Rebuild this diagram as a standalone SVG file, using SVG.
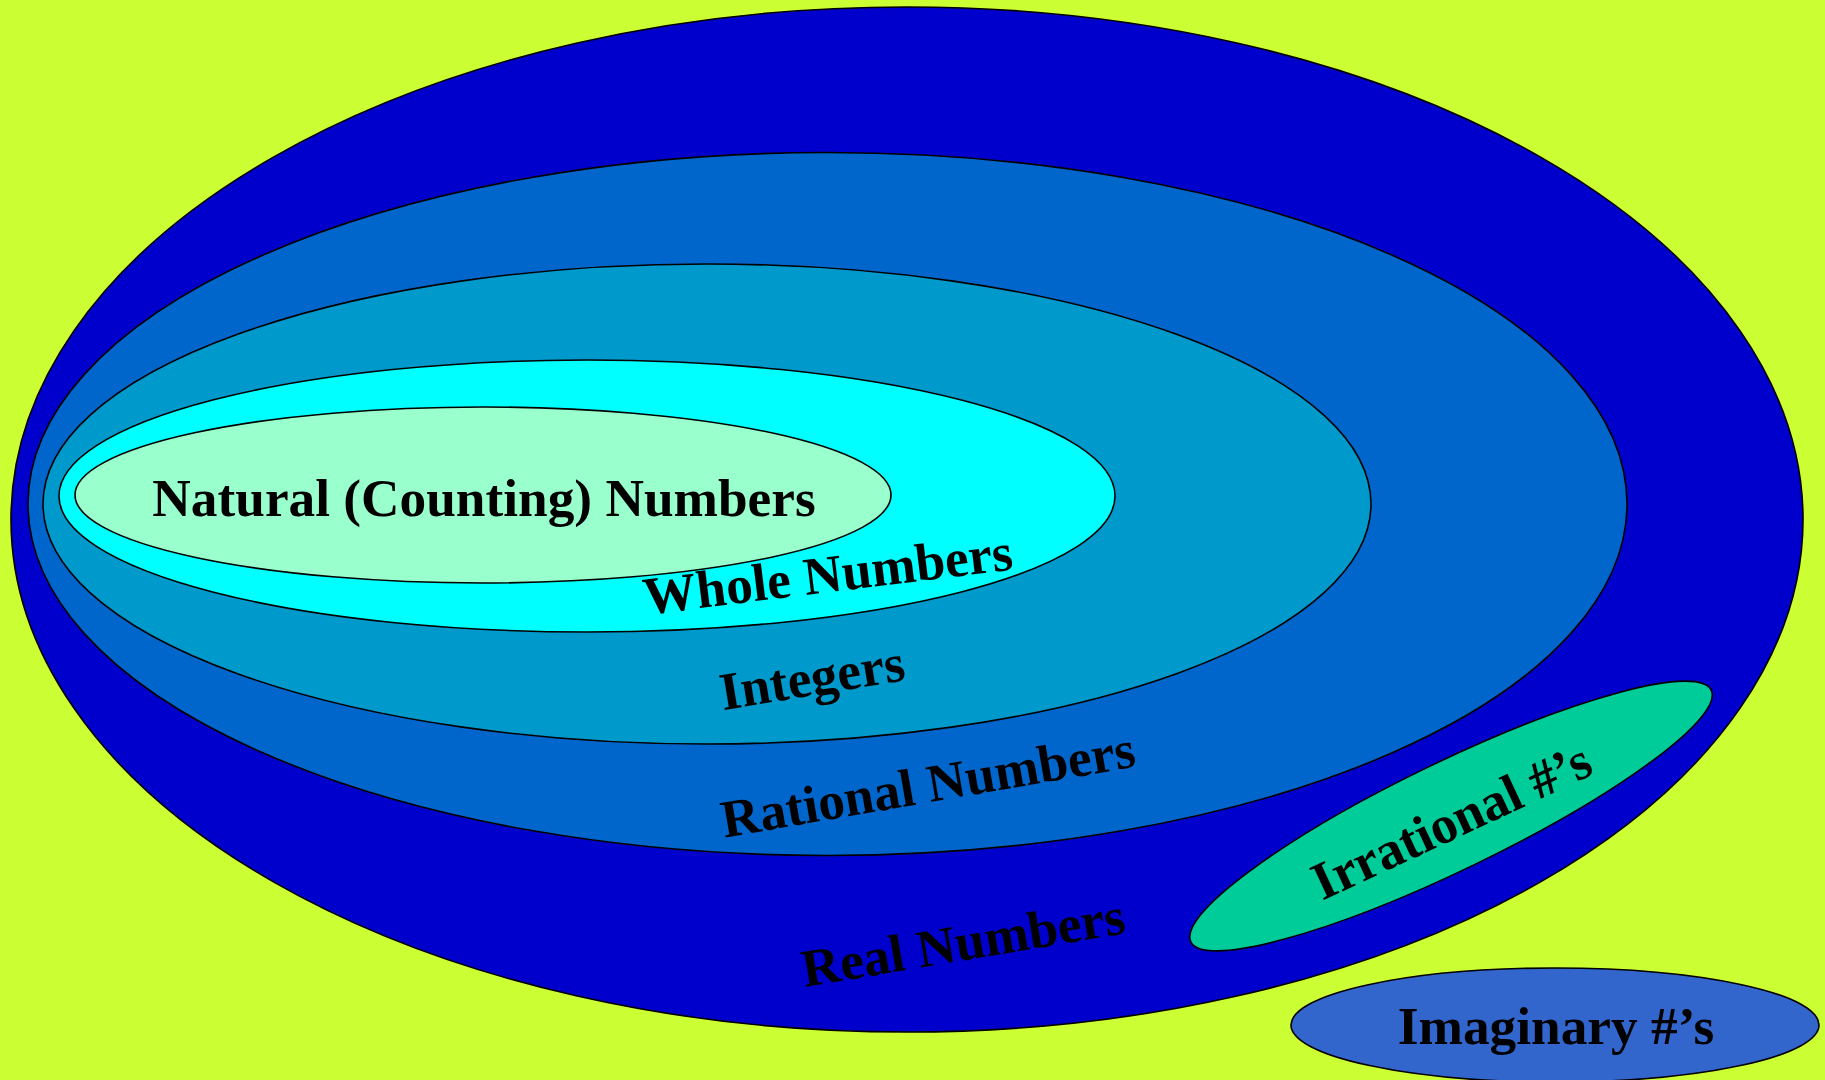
<svg xmlns="http://www.w3.org/2000/svg" width="1825" height="1080" viewBox="0 0 1825 1080">
<style>
.s{stroke:#000;stroke-width:1.6}
.t{font-family:"Liberation Serif","Times New Roman",serif;font-weight:bold;font-size:53.3px;fill:#000;text-anchor:middle}
</style>
<rect width="1825" height="1080" fill="#CCFF33"/>
<g id="real">
<ellipse class="s" cx="907" cy="519.5" rx="896" ry="512.5" fill="#0000CC"/>
<text class="t" transform="translate(966,960) rotate(-9.5)">Real Numbers</text>
</g>
<g id="rational">
<ellipse class="s" cx="827.5" cy="504" rx="799.5" ry="351.5" fill="#0066CC"/>
<text class="t" transform="translate(931,802) rotate(-9.8)">Rational Numbers</text>
</g>
<g id="integers">
<ellipse class="s" cx="707" cy="504" rx="664" ry="240" fill="#0099CC"/>
<text class="t" transform="translate(815,695) rotate(-9.4)">Integers</text>
</g>
<g id="whole">
<ellipse class="s" cx="587" cy="496" rx="528" ry="136" fill="#00FFFF"/>
<text class="t" transform="translate(830,592) rotate(-7)">Whole Numbers</text>
</g>
<g id="natural">
<ellipse class="s" cx="483" cy="495" rx="408" ry="88" fill="#99FFCC"/>
<text class="t" x="484" y="516">Natural (Counting) Numbers</text>
</g>
<g id="irrational">
<ellipse class="s" cx="1451" cy="816" rx="289" ry="54" fill="#00CC99" transform="rotate(-25.8 1451 816)"/>
<text class="t" transform="translate(1459,837) rotate(-25)">Irrational #’s</text>
</g>
<g id="imaginary">
<ellipse class="s" cx="1555" cy="1025" rx="264" ry="57" fill="#3366CC"/>
<text class="t" x="1556" y="1044">Imaginary #’s</text>
</g>
<g id="connectors"/>
</svg>
